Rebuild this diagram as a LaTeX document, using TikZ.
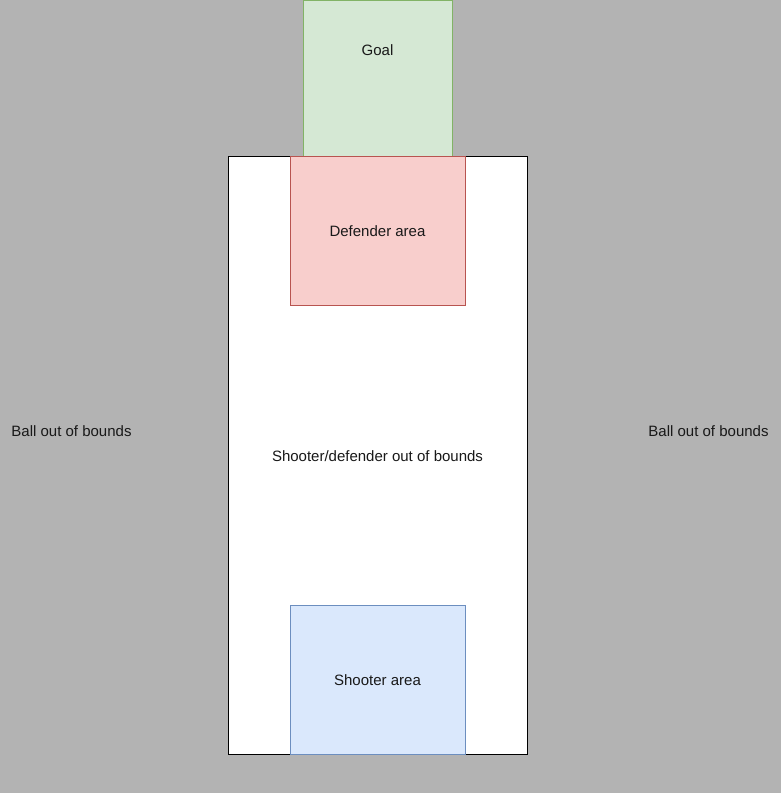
\documentclass[tikz,border=0pt]{standalone}
\usepackage{fontspec}
\setmainfont{Liberation Sans}
\begin{document}
\begin{tikzpicture}[x=0.75pt,y=-0.75pt,
  zone/.style={draw, line width=0.75pt, inner sep=0pt, outer sep=0pt},
  lbl/.style={font=\fontsize{11.25pt}{13.5pt}\selectfont, text=black!90}]
\definecolor{bg}{HTML}{B3B3B3}
\definecolor{goalfill}{HTML}{D5E8D4}\definecolor{goalline}{HTML}{82B366}
\definecolor{deffill}{HTML}{F8CECC}\definecolor{defline}{HTML}{B85450}
\definecolor{shfill}{HTML}{DAE8FC}\definecolor{shline}{HTML}{6C8EBF}
\fill[bg] (0,0) rectangle (781,793);
\useasboundingbox (0,0) rectangle (781,793);
\draw[zone, fill=white, draw=black] (228,156) rectangle (527.5,754) coordinate (fieldbr);
\coordinate (fieldtl) at (228,156);
\draw[zone, fill=goalfill, draw=goalline] (303,0) rectangle (452.5,156);
\draw[zone, fill=deffill, draw=defline] (290,156) rectangle (465.5,305);
\draw[zone, fill=shfill, draw=shline] (290,605) rectangle (465.5,754);
\node[lbl] (goal) at (377.5,50) {Goal};
\node[lbl] (def) at (377.5,231) {Defender area};
\node[lbl] (field) at (377.5,456) {Shooter/defender out of bounds};
\node[lbl] (shooter) at (377.5,680) {Shooter area};
\node[lbl] (ballL) at (71.5,431) {Ball out of bounds};
\node[lbl] (ballR) at (708.5,431) {Ball out of bounds};
\end{tikzpicture}
\end{document}
